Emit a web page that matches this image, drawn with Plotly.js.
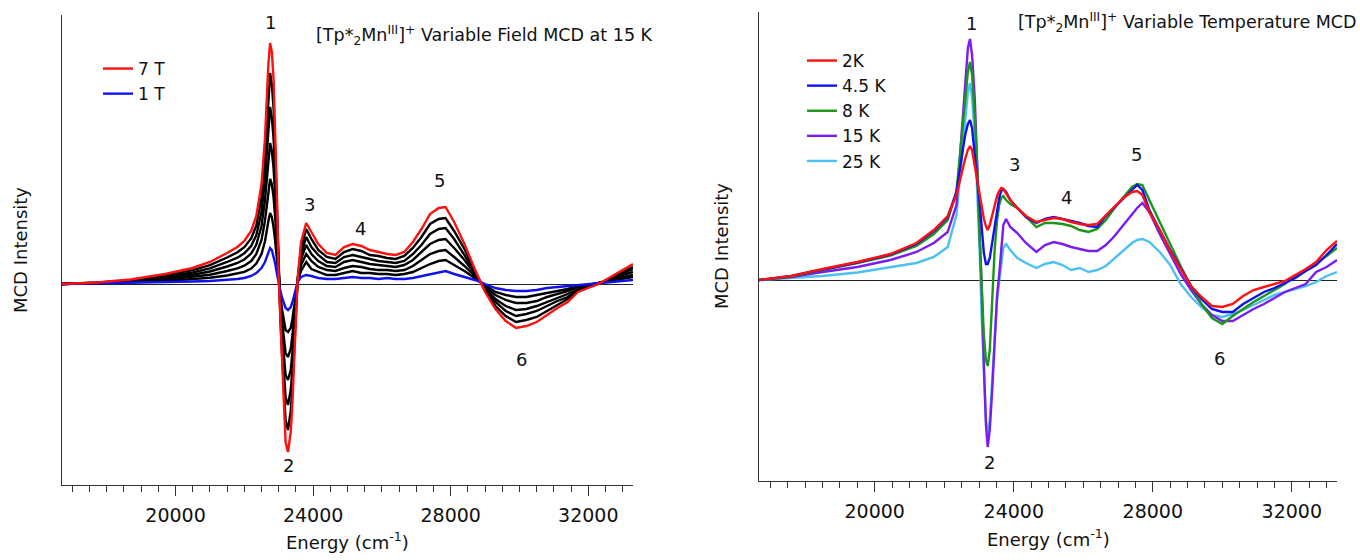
<!DOCTYPE html>
<html>
<head>
<meta charset="utf-8">
<script src="https://cdn.plot.ly/plotly-3.0.1.min.js"></script>
<style>html,body{margin:0;padding:0;background:#fff;}#chart{width:1360px;height:560px;}</style>
</head>
<body>
<div id="chart"></div>
<script>
// ---------- Left panel: variable field MCD at 15 K (energy in cm-1, MCD in arbitrary units) ----------
const fieldEnergy = [16700,17700,18700,19700,20500,21000,21500,21800,22000,22200,22350,22500,22600,22700,22750,22800,22850,22900,22950,23000,23050,23100,23150,23200,23270,23350,23400,23450,23500,23550,23650,23800,23950,24150,24400,24650,24900,25150,25400,25650,25900,26150,26400,26650,26900,27150,27400,27650,27850,28100,28400,28700,29000,29300,29600,29900,30200,30500,30800,31100,31400,31700,32000,32300,32600,32900,33300];
const mcd7T = [0,1.5,4.5,10,16,22,31,37,43,53,68,100,145,220,241,232,205,155,85,5,-40,-85,-128,-158,-168,-148,-118,-78,-35,5,42,61,52,40,31,29,37,40,38,34,32,30,29,32,42,55,70,76,77,62,40,15,-8,-25,-37,-44,-42,-38,-31,-24,-18,-8,-4,0,6,12,20];
const mcd6T = [0,1.3,3.9,8.6,13.8,18.8,26.5,31.7,36.8,45.5,58.5,86,124.5,189,211,199,176,133,73,4,-35,-73,-110,-136,-146,-127,-101,-67,-30,4.5,36,55,45,34,27,25,32,35,33,29,28,26,25,28,36,47,60,65,66,53,35,13,-7,-22,-32,-38,-36,-33,-27,-21,-15,-7,-3,0,5,11,17];
const mcd5T = [0,1.2,3.3,7.2,11.5,15.7,22,26.3,30.7,38,49,72,104,157,177,166,146,110,60,3,-29,-61,-92,-113,-121,-106,-85,-56,-25,4,30,47,37,29,22,21,27,29,27,25,23,22,21,23,30,39,50,55,56,45,29,11,-5,-18,-27,-32,-30,-27,-22,-17,-13,-6,-3,0.5,5,9,15];
const mcd4T = [0,1,2.8,5.8,9.3,12.5,17.5,21,24.5,30.5,39.5,58,83.5,126,141,133,116,88,48,2.5,-24,-50,-74,-91,-96,-86,-68,-45,-20,3.5,25,39,30,23,18,17,22,24,22,20,19,18,17,19,24,32,40,44,45,36,24,10,-4,-15,-22,-26,-25,-22,-18,-14,-10,-5,-2,0.5,4,8,12];
const mcd3T = [0,0.8,2.2,4.3,7,9.3,13,15.7,18.3,23,30,44,63,95,105,100,87,65,35,2,-18,-38,-56,-69,-73,-65,-51,-33,-14,3,19,30,23,17,14,13,16,18,17,15,14,14,13,14,18,24,30,33,34,27,18,8,-3,-11,-16,-19,-19,-17,-13,-10,-7,-3,-1,1,3,6,9];
const mcd2T = [0,0.7,1.6,2.9,4.8,6.2,8.5,10.3,12.2,15.5,20.5,30,42.5,63,71,67,57,42,22,1,-12,-26,-38,-46,-48,-44,-35,-22,-9,2.5,13,22,15,12,9,9,11,13,11,11,10,10,9,10,12,16,20,23,24,19,13,6,-1,-8,-11,-13,-13,-11,-9,-7,-5,-2,-1,1,3,5,7];
const mcd1T = [0,0.5,1,1.5,2.5,3,4,5,6,8,11,16,22,32,36,34,28,20,10,0,-7,-14,-20,-24,-26,-23,-18,-11,-4,2,7,9,8,6,5,5,6,7,6,6,5,6,5,5,6,8,10,12,13,10,7,4,0,-4,-6,-7,-7,-6,-4,-3,-2,-1,0,1,2,3,4];

// ---------- Right panel: variable temperature MCD ----------
const tempEnergy = [16670,17600,18500,19500,20450,21200,21700,22100,22350,22500,22600,22680,22740,22800,22880,22950,23020,23080,23140,23200,23250,23310,23380,23450,23520,23580,23640,23700,23780,23900,24100,24350,24650,24900,25150,25400,25650,25900,26150,26400,26650,26900,27150,27400,27550,27700,27900,28200,28500,28800,29100,29400,29700,30000,30300,30600,30900,31200,31500,31800,32100,32400,32700,33000,33300];
const mcd2K = [0,4,11,18,26,37,50,64,85,108,121,130,134,130,114,98,84,72,61,54,50,55,65,75,84,89,92,91,87,80,72,64,58,60,62,61,58,56,55,56,65,73,82,88,89,85,68,50,29,11,-6,-17,-26,-27,-24,-16,-10,-7,-4,-1,5,11,18,30,39];
const mcd4p5K = [0,4,10.5,17.5,25.5,36,49,63,88,125,145,156,160,152,127,100,76,48,27,16,16,22,37,52,70,82,89,91,88,80,72,63,57,61,63,61,59,57,54,53,64,73,82,90,95,90,70,50,30,12,-6,-19,-29,-32,-32,-24,-18,-12,-8,-3,2,9,15,25,36];
const mcd8K = [0,3.5,10,17,24.5,34,46,60,88,140,178,208,218,205,162,112,40,-10,-55,-80,-86,-70,-20,30,60,75,82,84,80,76,72,63,53,57,57,56,54,50,48,51,60,72,82,93,96,95,80,58,35,14,-6,-24,-38,-44,-36,-29,-22,-16,-10,-4,4,10,17,24,32];
const mcd15K = [0,3,8,13,20,28,37,48,75,150,200,232,241,225,180,115,55,-10,-85,-145,-167,-150,-110,-60,-15,5,35,55,61,53,47,37,28,35,38,36,33,31,29,29,35,44,55,66,72,77,68,46,26,6,-10,-24,-35,-41,-41,-35,-29,-24,-18,-12,-8,-4,8,13,20];
const mcd25K = [0,2,4,7.5,12.5,17,23,33,65,118,160,188,197,182,145,88,28,-40,-100,-140,-155,-140,-100,-55,-20,-2,18,32,36,30,22,17,12,16,18,15,10,12,8,10,14,22,30,37,40,41,38,28,15,-4,-17,-27,-35,-37,-34,-30,-25,-20,-15,-12,-9,-6,-2,4,8];

const xTickVals = [20000, 24000, 28000, 32000];
const peakLabels = ['1','2','3','4','5','6'];
const fieldPeakE = [22750, 23292, 23900, 25384, 27679, 30053];
const fieldPeakY = [262, -181, 80, 56, 104, -75];
const tempPeakE = [22771, 23289, 24031, 25525, 27531, 29927];
const tempPeakY = [257, -182, 116, 83, 126, -78];

const LW = 2.4;
function tr(x, y, name, color, xa, ya, legend, show, rank) {
  return {x: x, y: y, name: name, type: 'scatter', mode: 'lines',
    line: {color: color, width: LW}, xaxis: xa, yaxis: ya,
    legend: legend, showlegend: show, legendrank: rank, hoverinfo: 'skip'};
}

const data = [
  tr(fieldEnergy, mcd2T, '2 T', '#000000', 'x', 'y', 'legend', false, 10),
  tr(fieldEnergy, mcd3T, '3 T', '#000000', 'x', 'y', 'legend', false, 10),
  tr(fieldEnergy, mcd4T, '4 T', '#000000', 'x', 'y', 'legend', false, 10),
  tr(fieldEnergy, mcd5T, '5 T', '#000000', 'x', 'y', 'legend', false, 10),
  tr(fieldEnergy, mcd6T, '6 T', '#000000', 'x', 'y', 'legend', false, 10),
  tr(fieldEnergy, mcd1T, '1 T', '#1010f0', 'x', 'y', 'legend', true, 2),
  tr(fieldEnergy, mcd7T, '7 T', '#ff1010', 'x', 'y', 'legend', true, 1),
  tr(tempEnergy, mcd25K, '25 K', '#4cc0f5', 'x2', 'y2', 'legend2', true, 5),
  tr(tempEnergy, mcd15K, '15 K', '#7a1cf0', 'x2', 'y2', 'legend2', true, 4),
  tr(tempEnergy, mcd8K, '8 K', '#1a961a', 'x2', 'y2', 'legend2', true, 3),
  tr(tempEnergy, mcd4p5K, '4.5 K', '#1010f0', 'x2', 'y2', 'legend2', true, 2),
  tr(tempEnergy, mcd2K, '2K', '#ff1010', 'x2', 'y2', 'legend2', true, 1)
];

const AX = '#333333';
function xax(dom, rng, anchor) {
  return {domain: dom, range: rng, anchor: anchor, showline: true, linecolor: AX, linewidth: 1,
    ticks: 'outside', ticklen: 10, tickwidth: 1, tickcolor: AX, tickvals: xTickVals,
    ticktext: xTickVals.map(String), showgrid: false, zeroline: false,
    tickfont: {size: 19, color: '#111'}, ticklabelstandoff: 3,
    minor: {dtick: 500, tick0: 0, ticks: 'outside', ticklen: 6, tickwidth: 1, tickcolor: AX, showgrid: false}};
}
function yax(dom, rng, anchor) {
  return {domain: dom, range: rng, anchor: anchor, showline: true, linecolor: AX, linewidth: 1,
    showticklabels: false, ticks: '', showgrid: false, zeroline: true, zerolinecolor: '#222', zerolinewidth: 1};
}

const annotations = [];
function txt(x, y, text, size, opts) {
  annotations.push(Object.assign({x: x, y: y, xref: 'paper', yref: 'paper', text: text, showarrow: false,
    xanchor: 'center', yanchor: 'middle', font: {size: size, color: '#111', family: 'DejaVu Sans'}}, opts || {}));
}
peakLabels.forEach(function (p, i) {
  annotations.push({x: fieldPeakE[i], y: fieldPeakY[i], xref: 'x', yref: 'y', text: p, showarrow: false,
    xanchor: 'center', yanchor: 'middle', font: {size: 18, color: '#111'}});
  annotations.push({x: tempPeakE[i], y: tempPeakY[i], xref: 'x2', yref: 'y2', text: p, showarrow: false,
    xanchor: 'center', yanchor: 'middle', font: {size: 18, color: '#111'}});
});
txt(484.5/1360, 1 - 35/560, '[Tp*<sub>2</sub>Mn<sup>III</sup>]<sup>+</sup> Variable Field MCD at 15 K', 17.5);
txt(1187/1360, 1 - 23/560, '[Tp*<sub>2</sub>Mn<sup>III</sup>]<sup>+</sup> Variable Temperature MCD', 17.5);
txt(21/1360, 1 - 250/560, 'MCD Intensity', 18, {textangle: -90});
txt(721/1360, 1 - 246/560, 'MCD Intensity', 18, {textangle: -90});
txt(347/1360, 1 - 541/560, 'Energy (cm<sup>-1</sup>)', 18);
txt(1048/1360, 1 - 538/560, 'Energy (cm<sup>-1</sup>)', 18);

const layout = {
  width: 1360, height: 560, margin: {l: 0, r: 0, t: 0, b: 0},
  paper_bgcolor: '#ffffff', plot_bgcolor: '#ffffff',
  font: {family: 'DejaVu Sans', size: 18, color: '#111'},
  xaxis: xax([62/1360, 633/1360], [16700, 33300], 'y'),
  yaxis: yax([75/560, 545/560], [-201, 269], 'x'),
  xaxis2: xax([759/1360, 1337/1360], [16670, 33300], 'y2'),
  yaxis2: yax([79/560, 548/560], [-201, 268], 'x2'),
  legend: {x: 98/1360, y: 1 - 51/560, xanchor: 'left', yanchor: 'top', bgcolor: 'rgba(0,0,0,0)',
    font: {size: 17}, tracegroupgap: 0, traceorder: 'normal'},
  legend2: {x: 802/1360, y: 1 - 43/560, xanchor: 'left', yanchor: 'top', bgcolor: 'rgba(0,0,0,0)',
    font: {size: 17}, tracegroupgap: 0, traceorder: 'normal'},
  annotations: annotations,
  showlegend: true
};

Plotly.newPlot('chart', data, layout, {staticPlot: true, displayModeBar: false});
</script>
</body>
</html>
